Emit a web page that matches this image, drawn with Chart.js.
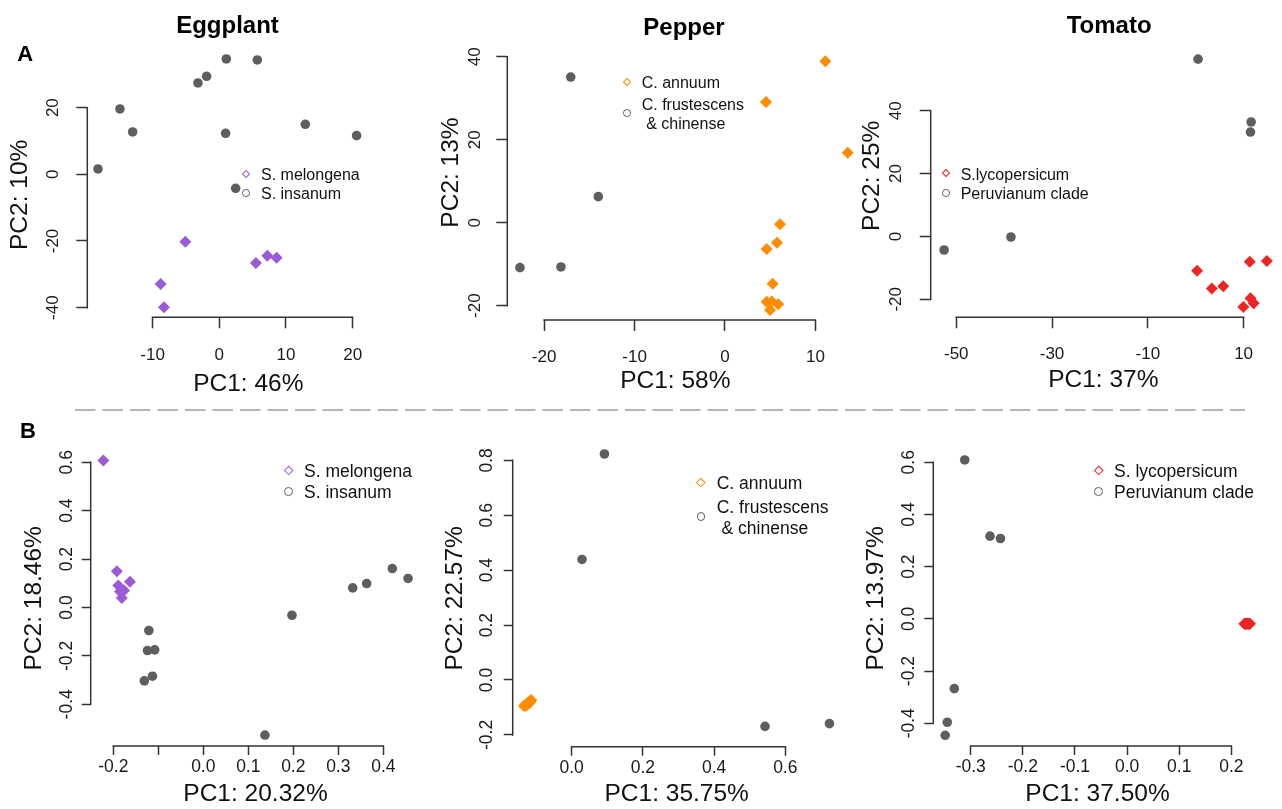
<!DOCTYPE html>
<html>
<head>
<meta charset="utf-8">
<title>PCA – Eggplant, Pepper, Tomato</title>
<script src="https://cdn.jsdelivr.net/npm/chart.js@4.4.1/dist/chart.umd.min.js"></script>
<style>
  html, body { margin:0; padding:0; background:#fff; }
  #fig { position:relative; width:1282px; height:809px; overflow:hidden; background:#fff;
         font-family:'Liberation Sans', Arial, Helvetica, sans-serif; }
  #fig canvas { position:absolute; left:0; top:0; }
  .txt { position:absolute; white-space:pre; line-height:1.2; }
  .mk { position:absolute; box-sizing:border-box; }
</style>
</head>
<body>
<div id="fig">
  <svg width="1282" height="809" style="position:absolute;left:0;top:0">
    <line x1="75" y1="410" x2="1245" y2="410" stroke="#b5b5b5" stroke-width="2.2" stroke-dasharray="20.5 7"/>
  </svg>
</div>
<script>
// ---------------- DATA ----------------
// A: Eggplant
const eggA_melongena_pc1 = [-5.1, -8.8, -8.3, 5.5, 7.2, 8.6];
const eggA_melongena_pc2 = [-20.2, -32.9, -39.9, -26.6, -24.4, -25.0];
const eggA_insanum_pc1 = [-18.2, -14.9, -13.0, -3.2, -1.9, 1.05, 5.7, 0.95, 12.9, 20.6, 2.45];
const eggA_insanum_pc2 = [1.6, 19.6, 12.7, 27.4, 29.4, 34.6, 34.3, 12.3, 15.0, 11.6, -4.2];
const eggA_xticks = [-10, 0, 10, 20];
const eggA_xlabels = ['-10', '0', '10', '20'];
const eggA_yticks = [-40, -20, 0, 20];
const eggA_ylabels = ['-40', '-20', '0', '20'];

// A: Pepper
const pepA_annuum_pc1 = [11.09, 4.53, 13.57, 6.08, 5.75, 4.61, 5.27, 4.61, 5.16, 5.89, 4.98];
const pepA_annuum_pc2 = [38.89, 29.08, 16.87, -0.39, -4.82, -6.34, -14.7, -19.04, -19.0, -19.66, -21.04];
const pepA_frut_pc1 = [-17.06, -14.01, -22.67, -18.14];
const pepA_frut_pc2 = [35.1, 6.27, -10.84, -10.67];
const pepA_xticks = [-20, -10, 0, 10];
const pepA_xlabels = ['-20', '-10', '0', '10'];
const pepA_yticks = [-20, 0, 20, 40];
const pepA_ylabels = ['-20', '0', '20', '40'];

// A: Tomato
const tomA_lyco_pc1 = [0.29, 3.37, 5.75, 11.29, 14.86, 9.94, 11.44, 12.11];
const tomA_lyco_pc2 = [-10.9, -16.6, -15.9, -8.1, -7.8, -22.5, -19.7, -21.3];
const tomA_peru_pc1 = [0.5, 11.58, 11.44, -38.58, -52.54];
const tomA_peru_pc2 = [56.4, 36.4, 33.2, -0.19, -4.33];
const tomA_xticks = [-50, -30, -10, 10];
const tomA_xlabels = ['-50', '-30', '-10', '10'];
const tomA_yticks = [-20, 0, 20, 40];
const tomA_ylabels = ['-20', '0', '20', '40'];

// B: Eggplant
const eggB_melongena_pc1 = [-0.222, -0.192, -0.163, -0.189, -0.176, -0.185, -0.181];
const eggB_melongena_pc2 = [0.607, 0.150, 0.106, 0.091, 0.070, 0.066, 0.039];
const eggB_insanum_pc1 = [-0.121, -0.124, -0.108, -0.113, -0.131, 0.137, 0.197, 0.332, 0.363, 0.420, 0.455];
const eggB_insanum_pc2 = [-0.095, -0.178, -0.175, -0.284, -0.303, -0.527, -0.032, 0.081, 0.099, 0.161, 0.120];
const eggB_xticks = [-0.2, -0.1, 0.0, 0.1, 0.2, 0.3, 0.4];
const eggB_xlabels = ['-0.2', '', '0.0', '0.1', '0.2', '0.3', '0.4'];
const eggB_yticks = [-0.4, -0.2, 0.0, 0.2, 0.4, 0.6];
const eggB_ylabels = ['-0.4', '-0.2', '0.0', '0.2', '0.4', '0.6'];

// B: Pepper
const pepB_annuum_pc1 = [-0.134, -0.131, -0.129, -0.127, -0.125, -0.123, -0.121, -0.119, -0.117, -0.115, -0.114];
const pepB_annuum_pc2 = [-0.095, -0.091, -0.094, -0.087, -0.090, -0.084, -0.086, -0.080, -0.082, -0.076, -0.073];
const pepB_frut_pc1 = [0.092, 0.029, 0.543, 0.724];
const pepB_frut_pc2 = [0.823, 0.439, -0.169, -0.159];
const pepB_xticks = [0.0, 0.2, 0.4, 0.6];
const pepB_xlabels = ['0.0', '0.2', '0.4', '0.6'];
const pepB_yticks = [-0.2, 0.0, 0.2, 0.4, 0.6, 0.8];
const pepB_ylabels = ['-0.2', '0.0', '0.2', '0.4', '0.6', '0.8'];

// B: Tomato
const tomB_lyco_pc1 = [0.225, 0.227, 0.228, 0.230, 0.231, 0.233, 0.234, 0.236];
const tomB_lyco_pc2 = [-0.019, -0.018, -0.020, -0.019, -0.018, -0.020, -0.019, -0.019];
const tomB_peru_pc1 = [-0.3115, -0.263, -0.243, -0.3315, -0.345, -0.349];
const tomB_peru_pc2 = [0.609, 0.317, 0.308, -0.267, -0.396, -0.446];
const tomB_xticks = [-0.3, -0.2, -0.1, 0.0, 0.1, 0.2];
const tomB_xlabels = ['-0.3', '-0.2', '-0.1', '0.0', '0.1', '0.2'];
const tomB_yticks = [-0.4, -0.2, 0.0, 0.2, 0.4, 0.6];
const tomB_ylabels = ['-0.4', '-0.2', '0.0', '0.2', '0.4', '0.6'];

// ---------------- STYLE ----------------
const FAMILY = "'Liberation Sans', Arial, Helvetica, sans-serif";
const GRAY = '#5e5e5e';
const PURPLE = '#9b5bd6';
const ORANGE = '#ff8c00';
const RED = '#ee2424';
const W = 1282, H = 809;
const TITLE_SIZE = 24.5;

Chart.defaults.font.family = FAMILY;

const panels = [
  { series: [
      {name:'S. melongena', pc1:eggA_melongena_pc1, pc2:eggA_melongena_pc2, shape:'rectRot', color:PURPLE},
      {name:'S. insanum', pc1:eggA_insanum_pc1, pc2:eggA_insanum_pc2, shape:'circle', color:GRAY}],
    xticks:eggA_xticks, xlabels:eggA_xlabels, yticks:eggA_yticks, ylabels:eggA_ylabels,
    xTitle:'PC1: 46%', yTitle:'PC2: 10%   ',
    xmin:-19.80, xmax:28.50, ymin:-42.90, ymax:36.69,
    L:87.3, B:317.3, R:409.3, T:52, padLeft:5.3, axisBottom:398.5,
    tl:11, tickSize:17, xLabelCy:355, yLabelCx:53.3 },
  { series: [
      {name:'C. annuum', pc1:pepA_annuum_pc1, pc2:pepA_annuum_pc2, shape:'rectRot', color:ORANGE},
      {name:'C. frustescens & chinense', pc1:pepA_frut_pc1, pc2:pepA_frut_pc2, shape:'circle', color:GRAY}],
    xticks:pepA_xticks, xlabels:pepA_xlabels, yticks:pepA_yticks, ylabels:pepA_ylabels,
    xTitle:'PC1: 58%', yTitle:'PC2: 13%',
    xmin:-24.07, xmax:13.08, ymin:-23.45, ymax:47.64,
    L:507.3, B:320, R:843.3, T:25, padLeft:436.5, axisBottom:396.4,
    tl:11, tickSize:17, xLabelCy:357.8, yLabelCx:475 },
  { series: [
      {name:'S.lycopersicum', pc1:tomA_lyco_pc1, pc2:tomA_lyco_pc2, shape:'rectRot', color:RED},
      {name:'Peruvianum clade', pc1:tomA_peru_pc1, pc2:tomA_peru_pc2, shape:'circle', color:GRAY}],
    xticks:tomA_xticks, xlabels:tomA_xlabels, yticks:tomA_yticks, ylabels:tomA_ylabels,
    xTitle:'PC1: 37%', yTitle:'PC2: 25%',
    xmin:-55.34, xmax:16.77, ymin:-25.74, ymax:64.3,
    L:930.7, B:317.3, R:1282, T:34.3, padLeft:858, axisBottom:394.7,
    tl:11, tickSize:17, xLabelCy:354.5, yLabelCx:896.7 },
  { series: [
      {name:'S. melongena', pc1:eggB_melongena_pc1, pc2:eggB_melongena_pc2, shape:'rectRot', color:PURPLE},
      {name:'S. insanum', pc1:eggB_insanum_pc1, pc2:eggB_insanum_pc2, shape:'circle', color:GRAY}],
    xticks:eggB_xticks, xlabels:eggB_xlabels, yticks:eggB_yticks, ylabels:eggB_ylabels,
    xTitle:'PC1: 20.32%', yTitle:'PC2: 18.46%',
    xmin:-0.2502, xmax:0.4822, ymin:-0.5723, ymax:0.6483,
    L:90.7, B:746, R:420.3, T:450.6, padLeft:19.8, axisBottom:809,
    tl:9, tickSize:17.5, xLabelCy:767, yLabelCx:66.7 },
  { series: [
      {name:'C. annuum', pc1:pepB_annuum_pc1, pc2:pepB_annuum_pc2, shape:'rectRot', color:ORANGE},
      {name:'C. frustescens & chinense', pc1:pepB_frut_pc1, pc2:pepB_frut_pc2, shape:'circle', color:GRAY}],
    xticks:pepB_xticks, xlabels:pepB_xlabels, yticks:pepB_yticks, ylabels:pepB_ylabels,
    xTitle:'PC1: 35.75%', yTitle:'PC2: 22.57%',
    xmin:-0.1657, xmax:0.7556, ymin:-0.2429, ymax:0.8379,
    L:512.7, B:746.7, R:840.7, T:449.9, padLeft:440.8, axisBottom:809,
    tl:9, tickSize:17.5, xLabelCy:767.8, yLabelCx:487 },
  { series: [
      {name:'S. lycopersicum', pc1:tomB_lyco_pc1, pc2:tomB_lyco_pc2, shape:'rectRot', color:RED},
      {name:'Peruvianum clade', pc1:tomB_peru_pc1, pc2:tomB_peru_pc2, shape:'circle', color:GRAY}],
    xticks:tomB_xticks, xlabels:tomB_xlabels, yticks:tomB_yticks, ylabels:tomB_ylabels,
    xTitle:'PC1: 37.50%', yTitle:'PC2: 13.97%',
    xmin:-0.3718, xmax:0.2583, ymin:-0.4870, ymax:0.6448,
    L:933.3, B:746, R:1261.7, T:450.6, padLeft:861.6, axisBottom:809,
    tl:9, tickSize:17.5, xLabelCy:767, yLabelCx:908.8 }
];

const fig = document.getElementById('fig');
const measureCtx = document.createElement('canvas').getContext('2d');
function textWidth(str, font) { measureCtx.font = font; return measureCtx.measureText(str).width; }

// R-style axis line: drawn only from the first to the last tick
const rAxisLine = {
  id: 'rAxisLine',
  beforeDatasetsDraw(chart) {
    const {ctx, chartArea, scales} = chart;
    const x = scales.x, y = scales.y;
    const xt = x.ticks, yt = y.ticks;
    ctx.save();
    ctx.strokeStyle = '#333';
    ctx.lineWidth = 1.5;
    ctx.beginPath();
    ctx.moveTo(x.getPixelForValue(xt[0].value) - 0.75, chartArea.bottom);
    ctx.lineTo(x.getPixelForValue(xt[xt.length - 1].value) + 0.75, chartArea.bottom);
    ctx.moveTo(chartArea.left, y.getPixelForValue(yt[0].value) + 0.75);
    ctx.lineTo(chartArea.left, y.getPixelForValue(yt[yt.length - 1].value) - 0.75);
    ctx.stroke();
    ctx.restore();
  }
};

function makePanel(p) {
  const canvas = document.createElement('canvas');
  canvas.width = W; canvas.height = H;
  fig.appendChild(canvas);
  const fontStr = p.tickSize + 'px ' + FAMILY;
  const widest = Math.max(...p.ylabels.map(s => textWidth(s, fontStr)));
  const yPad = p.L - p.tl - p.yLabelCx - widest / 2;
  const xPad = p.xLabelCy - p.B - p.tl - 0.6 * p.tickSize;
  new Chart(canvas, {
    type: 'scatter',
    data: {
      datasets: p.series.map(s => ({
        label: s.name,
        data: s.pc1.map((v, i) => ({x: v, y: s.pc2[i]})),
        pointStyle: s.shape,
        pointRadius: s.shape === 'circle' ? 4.8 : 6,
        pointHoverRadius: s.shape === 'circle' ? 4.8 : 6,
        backgroundColor: s.color,
        borderColor: s.color,
        borderWidth: 0,
        clip: false
      }))
    },
    options: {
      responsive: false,
      animation: false,
      devicePixelRatio: 1,
      events: [],
      layout: { padding: { left: p.padLeft, top: p.T, right: W - p.R, bottom: H - p.axisBottom } },
      plugins: { legend: {display: false}, tooltip: {enabled: false}, title: {display: false} },
      scales: {
        x: {
          type: 'linear', position: 'bottom', min: p.xmin, max: p.xmax,
          afterBuildTicks: s => { s.ticks = p.xticks.map(v => ({value: v})); },
          afterFit: s => { s.height = p.axisBottom - p.B; },
          ticks: { autoSkip: false, minRotation: 0, maxRotation: 0, padding: xPad, color: '#1a1a1a',
                   font: {size: p.tickSize}, callback: (v, i) => p.xlabels[i] },
          grid: { display: true, drawOnChartArea: false, drawTicks: true, tickLength: p.tl,
                  tickColor: '#333', tickWidth: 1.5, color: '#333' },
          border: { display: false },
          title: { display: true, text: p.xTitle, color: '#111', font: {size: TITLE_SIZE}, padding: 0 }
        },
        y: {
          type: 'linear', position: 'left', min: p.ymin, max: p.ymax,
          afterBuildTicks: s => { s.ticks = p.yticks.map(v => ({value: v})); },
          afterFit: s => { s.width = p.L - p.padLeft; },
          ticks: { autoSkip: false, minRotation: 90, maxRotation: 90, crossAlign: 'center', padding: yPad,
                   color: '#1a1a1a', font: {size: p.tickSize}, callback: (v, i) => p.ylabels[i] },
          grid: { display: true, drawOnChartArea: false, drawTicks: true, tickLength: p.tl,
                  tickColor: '#333', tickWidth: 1.5, color: '#333' },
          border: { display: false },
          title: { display: true, text: p.yTitle, color: '#111', font: {size: TITLE_SIZE}, padding: 0 }
        }
      }
    },
    plugins: [rAxisLine]
  });
}
panels.forEach(makePanel);

// ---------------- Titles, panel letters, legends (HTML text) ----------------
function addText(str, x, capCy, fs, opts) {
  opts = opts || {};
  const d = document.createElement('div');
  d.className = 'txt';
  d.textContent = str;
  d.style.fontSize = fs + 'px';
  if (opts.bold) d.style.fontWeight = 'bold';
  d.style.color = opts.color || '#111';
  d.style.top = (capCy - 0.5885 * fs) + 'px';
  d.style.left = x + 'px';
  if (opts.center) d.style.transform = 'translateX(-50%)';
  fig.appendChild(d);
}
function addMarker(shape, cx, cy, size, color) {
  const d = document.createElement('div');
  d.className = 'mk';
  if (shape === 'diamond') {
    const s = size / Math.SQRT2;
    Object.assign(d.style, {width: s + 'px', height: s + 'px', left: (cx - s / 2) + 'px', top: (cy - s / 2) + 'px',
      border: '1.3px solid ' + color, transform: 'rotate(45deg)'});
  } else {
    Object.assign(d.style, {width: size + 'px', height: size + 'px', left: (cx - size / 2) + 'px', top: (cy - size / 2) + 'px',
      border: '1.3px solid ' + color, borderRadius: '50%'});
  }
  fig.appendChild(d);
}

addText('Eggplant', 227.5, 24.7, 24, {bold: true, center: true, color: '#000'});
addText('Pepper', 684, 27.4, 24, {bold: true, center: true, color: '#000'});
addText('Tomato', 1109.2, 24.7, 24, {bold: true, center: true, color: '#000'});
addText('A', 17.3, 53.8, 22, {bold: true, color: '#000'});
addText('B', 20, 431.4, 22, {bold: true, color: '#000'});

// Legends (A row: 16px, B row: 17.5px)
addMarker('diamond', 246, 174, 8.5, PURPLE);  addText('S. melongena', 261, 174, 16);
addMarker('circle', 246, 193, 7.7, GRAY);     addText('S. insanum', 261, 193, 16);

addMarker('diamond', 626.7, 82.3, 8.5, ORANGE); addText('C. annuum', 641.7, 82.5, 16);
addMarker('circle', 626.7, 113, 7.7, GRAY);     addText('C. frustescens', 641.7, 104, 16);
addText(' & chinense', 641.7, 123.2, 16);

addMarker('diamond', 945.7, 173.3, 8.5, RED);   addText('S.lycopersicum', 960.7, 174.2, 16);
addMarker('circle', 945.7, 192.7, 7.7, GRAY);   addText('Peruvianum clade', 960.7, 193.2, 16);

addMarker('diamond', 288.3, 470.7, 10.5, PURPLE); addText('S. melongena', 304, 471.2, 17.5);
addMarker('circle', 288.3, 491.7, 8.8, GRAY);     addText('S. insanum', 304, 492.2, 17.5);

addMarker('diamond', 701, 482.7, 10.5, ORANGE); addText('C. annuum', 716.7, 483.3, 17.5);
addMarker('circle', 701, 516.7, 8.8, GRAY);     addText('C. frustescens', 716.7, 507.2, 17.5);
addText(' & chinense', 716.7, 527.8, 17.5);

addMarker('diamond', 1098.3, 470.7, 10.5, RED); addText('S. lycopersicum', 1114, 471.2, 17.5);
addMarker('circle', 1098.3, 491.7, 8.8, GRAY);  addText('Peruvianum clade', 1114, 492.2, 17.5);
</script>
</body>
</html>
